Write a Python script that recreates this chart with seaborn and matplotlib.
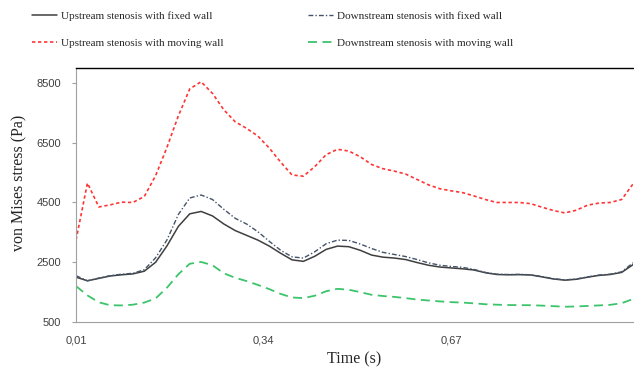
import numpy as np
import pandas as pd
import seaborn as sns
import matplotlib.pyplot as plt

# time steps (s), one reading every 0.02 s
time = np.round(np.arange(0.01, 1.0, 0.02), 2)

up_fixed = [2000, 1880, 1960, 2040, 2080, 2110, 2200, 2500, 3050, 3700,
            4120, 4200, 4050, 3780, 3560, 3400, 3240, 3040, 2800, 2580,
            2530, 2700, 2930, 3040, 3020, 2900, 2740, 2670, 2640, 2590,
            2490, 2400, 2340, 2310, 2280, 2240, 2150, 2090, 2080, 2085,
            2075, 2010, 1940, 1900, 1930, 2000, 2060, 2090, 2160, 2420]

down_fixed = [2050, 1880, 1970, 2050, 2100, 2130, 2250, 2650, 3250, 4100,
              4650, 4750, 4600, 4270, 3970, 3780, 3520, 3200, 2900, 2680,
              2640, 2850, 3120, 3240, 3230, 3110, 2960, 2830, 2760, 2690,
              2590, 2480, 2400, 2360, 2330, 2260, 2160, 2100, 2090, 2095,
              2080, 2020, 1950, 1910, 1940, 2010, 2070, 2100, 2180, 2480]

up_moving = [3250, 5150, 4350, 4420, 4510, 4500, 4700, 5400, 6350, 7400,
             8300, 8540, 8150, 7600, 7200, 6980, 6720, 6320, 5850, 5420,
             5380, 5700, 6100, 6280, 6220, 6030, 5770, 5630, 5550, 5450,
             5270, 5090, 4960, 4890, 4830, 4720, 4600, 4500, 4500, 4500,
             4460, 4340, 4230, 4150, 4240, 4410, 4480, 4500, 4600, 5120]

down_moving = [1700, 1390, 1160, 1060, 1055, 1080, 1150, 1290, 1650, 2100,
               2450, 2510, 2400, 2130, 1980, 1870, 1740, 1600, 1440, 1320,
               1300, 1380, 1530, 1610, 1580, 1500, 1410, 1370, 1340, 1300,
               1250, 1220, 1190, 1165, 1150, 1125, 1095, 1080, 1068, 1065,
               1062, 1048, 1030, 1012, 1020, 1038, 1055, 1075, 1130, 1270]

yticks = [500, 2500, 4500, 6500, 8500]
xticks = [0.01, 0.34, 0.67]
xticklabels = ['0,01', '0,34', '0,67']

sns.set_style("white")
plt.rcParams['font.family'] = ['Liberation Serif', 'DejaVu Serif']

fig = plt.figure(figsize=(6.34, 3.70), dpi=100)
ax = fig.add_axes([0.12, 0.1297, 0.8785, 0.6865])

series = [
    (up_fixed, 'Upstream stenosis with fixed wall', '#3f3f3f', '-', 1.1),
    (up_moving, 'Upstream stenosis with moving wall', '#ff3535', (0, (2, 1.6)), 1.2),
    (down_fixed, 'Downstream stenosis with fixed wall', '#44546a', (0, (3.5, 1.5, 1, 1.5)), 1.0),
    (down_moving, 'Downstream stenosis with moving wall', '#3cc46b', (0, (5, 3)), 1.3),
]
for vals, lab, col, ls, lw in series:
    sns.lineplot(x=time, y=vals, ax=ax, color=col, linestyle=ls, linewidth=lw, label=lab)

ax.set_xlim(0.01, 0.99)
ax.set_ylim(500, 9000)
ax.set_yticks(yticks)
ax.set_xticks(xticks)
ax.set_xticklabels(xticklabels)
for lbl in ax.get_xticklabels() + ax.get_yticklabels():
    lbl.set_fontfamily('Liberation Sans')
    lbl.set_fontsize(8)
    lbl.set_color('#404040')
ax.tick_params(axis='y', length=3, color='#a0a0a0', pad=8, left=True)
ax.tick_params(axis='x', length=0, pad=10)

ax.set_ylabel('von Mises stress (Pa)', fontsize=11.5)
ax.yaxis.set_label_coords(-0.088, 0.547)
ax.set_xlabel('Time (s)', fontsize=11.5, labelpad=4)

ax.spines['top'].set_color('black')
ax.spines['top'].set_linewidth(1.0)
ax.spines['left'].set_color('#a0a0a0')
ax.spines['bottom'].set_color('#a0a0a0')
ax.spines['right'].set_visible(False)

handles, labels = ax.get_legend_handles_labels()
ax.get_legend().remove()
fig.legend(handles, labels, ncol=2, loc='upper left', bbox_to_anchor=(0.05, 0.971),
           frameon=False, fontsize=8, handlelength=2.3, handletextpad=0.3,
           columnspacing=7.6, labelspacing=1.6, borderpad=0, borderaxespad=0)

fig.savefig('out.png', dpi=100)
